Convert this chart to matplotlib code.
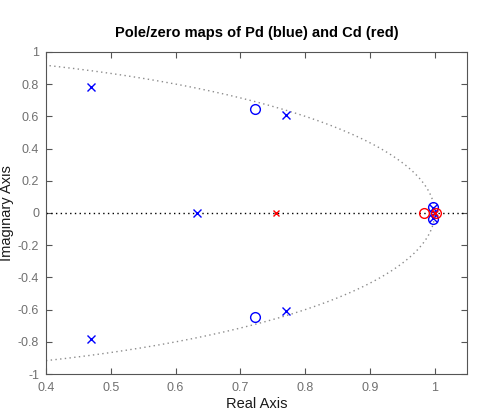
import numpy as np
import matplotlib
matplotlib.use("Agg")
import matplotlib.pyplot as plt

plt.rcParams['font.family'] = ['Liberation Sans', 'DejaVu Sans']

# -------- Pole/zero data -------- #
pd_poles_re = [0.470, 0.470, 0.770, 0.770, 0.633, 0.998, 0.998]
pd_poles_im = [0.780, -0.780, 0.608, -0.608, 0.0, 0.030, -0.030]
pd_zeros_re = [0.722, 0.722, 0.998, 0.998]
pd_zeros_im = [0.645, -0.645, 0.035, -0.035]

cd_poles_re = [0.755, 1.000]
cd_poles_im = [0.0, 0.0]
cd_zeros_re = [0.983, 1.002]
cd_zeros_im = [0.0, 0.0]

xticks = [0.4, 0.5, 0.6, 0.7, 0.8, 0.9, 1.0]
yticks = [-1, -0.8, -0.6, -0.4, -0.2, 0, 0.2, 0.4, 0.6, 0.8, 1]

fig = plt.figure(figsize=(5.03, 4.18), dpi=100)
ax = fig.add_axes([0.0915, 0.105, 0.837, 0.771])

# unit circle and real axis
theta = np.linspace(0, 2 * np.pi, 800)
ax.plot(np.cos(theta), np.sin(theta), color='#8c8c8c', lw=1, dashes=(1, 2.4))
ax.axhline(0, color='black', lw=1, dashes=(1, 2.4))

ax.plot(pd_poles_re, pd_poles_im, 'x', color='blue', ms=6, mew=1)
ax.plot(pd_zeros_re, pd_zeros_im, 'o', mfc='none', mec='blue', ms=7, mew=1)
ax.plot(cd_poles_re, cd_poles_im, 'x', color='red', ms=5, mew=1)
ax.plot(cd_zeros_re, cd_zeros_im, 'o', mfc='none', mec='red', ms=7, mew=1)

ax.set_xlim(0.4, 1.05)
ax.set_ylim(-1, 1)
ax.set_xticks(xticks)
ax.set_xticklabels(['0.4', '0.5', '0.6', '0.7', '0.8', '0.9', '1'])
ax.set_yticks(yticks)
ax.set_yticklabels(['-1', '-0.8', '-0.6', '-0.4', '-0.2', '0', '0.2', '0.4', '0.6', '0.8', '1'])

gray = '#555555'
for s in ax.spines.values():
    s.set_color(gray)
    s.set_linewidth(0.8)
ax.tick_params(direction='in', top=True, right=True, length=4, width=0.8,
               colors=gray, labelsize=9, labelcolor='#707070')
ax.tick_params(axis='x', pad=6)
ax.tick_params(axis='y', pad=5)

ax.set_xlabel('Real Axis', fontsize=10.5, color='#1a1a1a', labelpad=2)
ax.set_ylabel('Imaginary Axis', fontsize=10.5, color='#1a1a1a', labelpad=3)
ax.set_title('Pole/zero maps of Pd (blue) and Cd (red)', fontsize=10.5,
             fontweight='bold', pad=11)

fig.savefig('out.png', dpi=100)
